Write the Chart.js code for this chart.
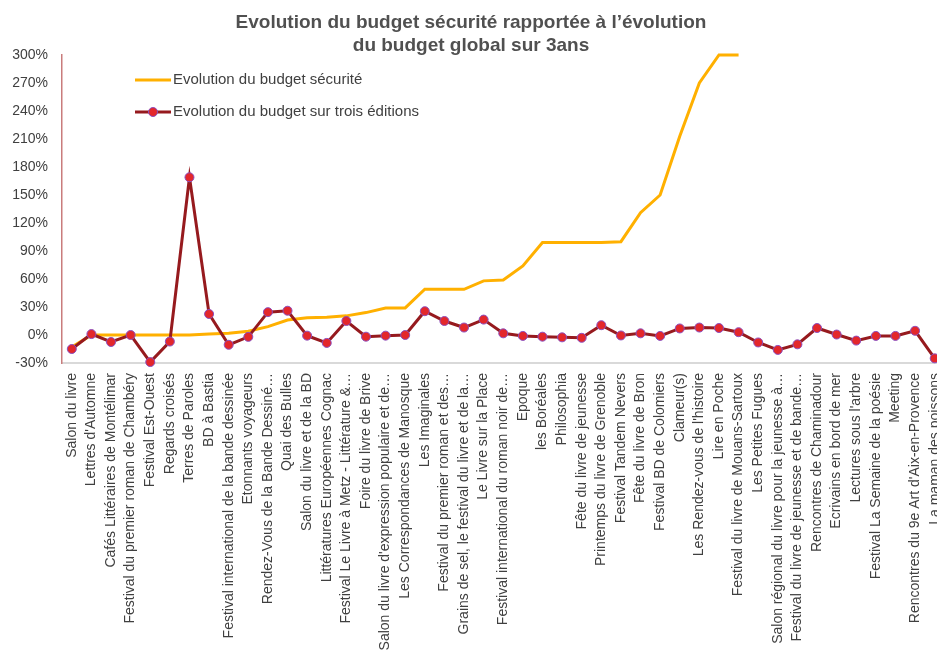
<!DOCTYPE html>
<html lang="fr">
<head>
<meta charset="utf-8">
<title>Evolution du budget sécurité</title>
<script src="https://cdn.jsdelivr.net/npm/chart.js@4.4.1/dist/chart.umd.min.js"></script>
<style>
  html, body { margin: 0; padding: 0; background: #fff; overflow: hidden; }
  #chart { display: block; }
</style>
</head>
<body>
<canvas id="chart" width="950" height="657"></canvas>
<script>
const festivals = [
  'Salon du livre', "Lettres d'Automne", 'Cafés Littéraires de Montélimar',
  'Festival du premier roman de Chambéry', 'Festival Est-Ouest', 'Regards croisés',
  'Terres de Paroles', 'BD à Bastia', 'Festival international de la bande dessinée',
  'Etonnants voyageurs', 'Rendez-Vous de la Bande Dessiné…', 'Quai des Bulles',
  'Salon du livre et de la BD', 'Littératures Européennes Cognac',
  'Festival Le Livre à Metz - Littérature &…', 'Foire du livre de Brive',
  "Salon du livre d'expression populaire et de…", 'Les Correspondances de Manosque',
  'Les Imaginales', 'Festival du premier roman et des…',
  'Grains de sel, le festival du livre et de la…', 'Le Livre sur la Place',
  'Festival international du roman noir de…', 'Epoque', 'les Boréales', 'Philosophia',
  'Fête du livre de jeunesse', 'Printemps du livre de Grenoble', 'Festival Tandem Nevers',
  'Fête du livre de Bron', 'Festival BD de Colomiers', 'Clameur(s)',
  "Les Rendez-vous de l'histoire", 'Lire en Poche', 'Festival du livre de Mouans-Sartoux',
  'Les Petites Fugues', 'Salon régional du livre pour la jeunesse à…',
  'Festival du livre de jeunesse et de bande…', 'Rencontres de Chaminadour',
  'Ecrivains en bord de mer', "Lectures sous l'arbre", 'Festival La Semaine de la poésie',
  'Meeting', "Rencontres du 9e Art d'Aix-en-Provence", 'La maman des poissons'
];

// % evolution (values above 300 % sit on the top edge)
const budgetSecurite = [
  -13, 0, 0, 0, 0, 0, 0, 1, 2, 4, 9, 16, 18.5, 19, 20.5,
  24, 29, 29, 49, 49, 49, 58, 59, 74, 99, 99, 99, 99, 100, 131,
  150, 213, 270, 300, 300, null, null, null, null, null, null, null, null, null, null
];
const budgetTroisEditions = [
  -15, 1, -7.5, 0, -29, -7, 169, 22.5, -10.5, -2, 24.5, 26, -0.7, -8.5, 15,
  -1.8, -0.7, 0, 25.5, 15, 8, 16.5, 1.8, -1, -1.8, -2.5, -3, 10.5, -0.5, 1.8,
  -1, 7, 8, 7.5, 3, -8, -16, -10, 7.5, 0.5, -6, -1, -1, 4.5, -25
];

const yTicks = { min: -30, max: 300, step: 30 };
const titleLines = ["Evolution du budget sécurité rapportée à l’évolution", 'du budget global sur 3ans'];

const textColor = '#404040';
const font = 'Liberation Sans, Arial, sans-serif';

// title drawn by hand so it can sit where the original one does
const topTitle = {
  id: 'topTitle',
  afterDraw(chart) {
    const ctx = chart.ctx;
    ctx.save();
    ctx.font = 'bold 19px ' + font;
    ctx.fillStyle = '#505050';
    ctx.textAlign = 'center';
    ctx.textBaseline = 'middle';
    titleLines.forEach((t, i) => ctx.fillText(t, 471, 23 + i * 23));
    ctx.restore();
  }
};

// legend drawn inside the plot, top-left
const insideLegend = {
  id: 'insideLegend',
  afterDraw(chart) {
    const ctx = chart.ctx;
    const rows = [80, 112];
    const sets = chart.data.datasets;
    ctx.save();
    ctx.font = '15px ' + font;
    ctx.textBaseline = 'middle';
    sets.forEach((ds, i) => {
      const y = rows[i];
      ctx.strokeStyle = ds.borderColor;
      ctx.lineWidth = 3;
      ctx.beginPath();
      ctx.moveTo(135, y);
      ctx.lineTo(171, y);
      ctx.stroke();
      if (ds.pointRadius > 0) {
        ctx.beginPath();
        ctx.arc(153, y, ds.pointRadius, 0, Math.PI * 2);
        ctx.fillStyle = ds.pointBackgroundColor;
        ctx.fill();
        ctx.lineWidth = ds.pointBorderWidth;
        ctx.strokeStyle = ds.pointBorderColor;
        ctx.stroke();
      }
      ctx.fillStyle = textColor;
      ctx.fillText(ds.label, 173, y);
    });
    ctx.restore();
  }
};

new Chart(document.getElementById('chart'), {
  type: 'line',
  data: {
    labels: festivals,
    datasets: [
      {
        label: 'Evolution du budget sécurité',
        data: budgetSecurite,
        borderColor: '#ffb000',
        borderWidth: 3,
        pointRadius: 0,
        tension: 0,
        clip: false,
        order: 2
      },
      {
        label: 'Evolution du budget sur trois éditions',
        data: budgetTroisEditions,
        borderColor: '#961a1e',
        borderWidth: 3,
        pointRadius: 4.5,
        pointBackgroundColor: '#e3272b',
        pointBorderColor: '#8a4fc0',
        pointBorderWidth: 1,
        tension: 0,
        clip: false,
        order: 1
      }
    ]
  },
  options: {
    responsive: false,
    animation: false,
    layout: { padding: { left: 12, right: 0, top: 55, bottom: 0 } },
    plugins: {
      legend: { display: false },
      tooltip: { enabled: false },
      title: { display: false }
    },
    scales: {
      x: {
        offset: true,
        grid: { display: false, drawTicks: false },
        border: { display: true, color: '#d9d9d9', width: 2 },
        ticks: {
          autoSkip: false, maxRotation: 90, minRotation: 90, padding: 10,
          color: textColor, font: { family: font, size: 14 }
        },
        afterFit(scale) {
          scale.height = 294;
          scale.paddingLeft = 0;
          scale.paddingRight = 0;
        }
      },
      y: {
        min: yTicks.min,
        max: yTicks.max,
        grid: { display: false, drawTicks: false },
        border: { display: true, color: '#c97c7c', width: 1.5 },
        ticks: {
          stepSize: yTicks.step, padding: 14, color: textColor,
          font: { family: font, size: 14 },
          callback: (v) => v + '%'
        },
        afterFit(scale) { scale.width = 50; }
      }
    }
  },
  plugins: [topTitle, insideLegend]
});
</script>
</body>
</html>
